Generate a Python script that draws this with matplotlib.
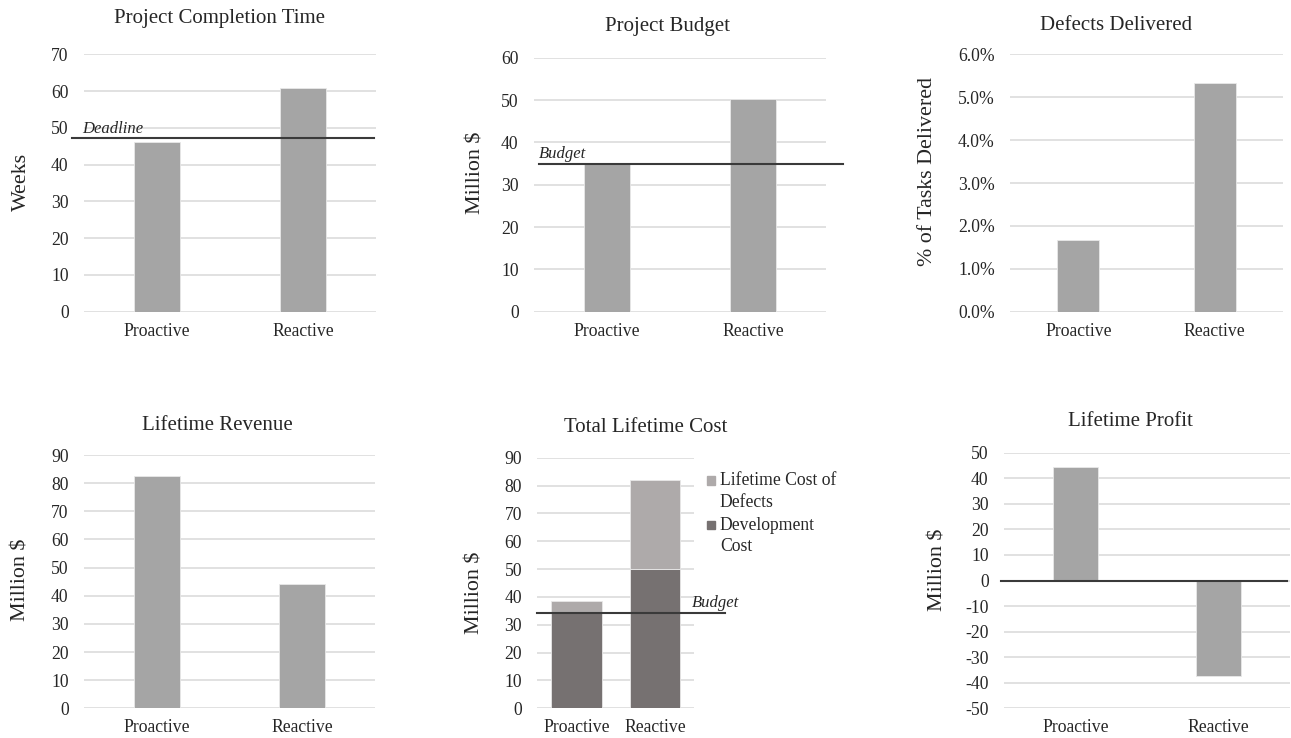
import matplotlib
matplotlib.use("Agg")
import matplotlib.pyplot as plt
import numpy as np
from matplotlib.patches import Patch, Rectangle
from matplotlib.legend_handler import HandlerPatch

plt.rcParams['font.family'] = ['Liberation Serif', 'DejaVu Serif']
plt.rcParams['axes.unicode_minus'] = False

# ---------------- data ----------------
categories = ["Proactive", "Reactive"]
completion_weeks = [46.2, 60.9]
deadline_weeks = 47.3
project_budget = [35.0, 50.3]
budget_level = 35.0
defects_pct = [1.68, 5.32]
lifetime_revenue = [82.5, 44.3]
development_cost = [34.6, 50.2]
defect_cost = [3.8, 31.8]
lifetime_budget_level = 34.1
lifetime_profit = [44.5, -37.4]

BAR = "#a5a5a5"
DARK = "#767171"
LIGHT = "#aeaaaa"
GRID = "#d9d9d9"
LINE = "#3a3a3a"
TXT = "#262626"
EDGE = "#e8e8e8"

W, H = 1291, 738
fig = plt.figure(figsize=(W / 100, H / 100), dpi=100)


def px_axes(left, right, top, bottom):
    return fig.add_axes([left / W, 1 - bottom / H, (right - left) / W, (bottom - top) / H])


def style(ax, ylim, step, fmt=None):
    ax.set_xlim(-0.5, 1.5)
    ax.set_ylim(*ylim)
    for s in ax.spines.values():
        s.set_visible(False)
    ticks = np.arange(ylim[0], ylim[1] + step / 2, step)
    ax.set_yticks(ticks)
    if fmt:
        ax.set_yticklabels([fmt(t) for t in ticks])
    else:
        ax.set_yticklabels([f"{int(round(t))}" for t in ticks])
    ax.yaxis.grid(True, color=GRID, lw=1.1)
    ax.set_axisbelow(True)
    ax.tick_params(axis="y", length=0, pad=11, labelsize=12.7, labelcolor=TXT)
    ax.tick_params(axis="x", length=0, pad=8, labelsize=12.7, labelcolor=TXT)
    ax.set_xticks(range(len(categories)))
    ax.set_xticklabels(categories)
    ax.patch.set_alpha(0)


def title(x, y, s):
    fig.text(x / W, 1 - y / H, s, ha="center", va="center", fontsize=15, color=TXT)


def ylabel(x, y, s):
    fig.text(x / W, 1 - y / H, s, ha="center", va="center", rotation=90, fontsize=15.8, color=TXT)


# ---- Panel 1: Project Completion Time ----
ax1 = px_axes(84, 376, 54.3, 311.7)
style(ax1, (0, 70), 10)
ax1.bar(range(2), completion_weeks, width=0.315, color=BAR, edgecolor=EDGE, lw=0.6)
ax1.plot([-0.582, 1.486], [deadline_weeks] * 2, color=LINE, lw=1.5, clip_on=False)
ax1.text(-0.514, deadline_weeks + 0.3, "Deadline", fontstyle="italic", fontsize=12,
         color=TXT, ha="left", va="bottom")
title(220, 19, "Project Completion Time")
ylabel(21, 182, "Weeks")

# ---- Panel 2: Project Budget ----
ax2 = px_axes(534, 826, 57.7, 311.7)
style(ax2, (0, 60), 10)
ax2.bar(range(2), project_budget, width=0.315, color=BAR, edgecolor=EDGE, lw=0.6)
ax2.plot([-0.466, 1.616], [budget_level] * 2, color=LINE, lw=1.5, clip_on=False)
ax2.text(-0.466, budget_level + 0.25, "Budget", fontstyle="italic", fontsize=12,
         color=TXT, ha="left", va="bottom")
title(667, 27, "Project Budget")
ylabel(476, 173, "Million $")

# ---- Panel 3: Defects Delivered ----
ax3 = px_axes(1010, 1283, 54.3, 311.7)
style(ax3, (0, 6), 1, fmt=lambda t: f"{t:.1f}%")
ax3.bar(range(2), defects_pct, width=0.31, color=BAR, edgecolor=EDGE, lw=0.6)
title(1116, 25, "Defects Delivered")
ylabel(928, 172, "% of Tasks Delivered")

# ---- Panel 4: Lifetime Revenue ----
ax4 = px_axes(84, 375, 455, 708.3)
style(ax4, (0, 90), 10)
ax4.bar(range(2), lifetime_revenue, width=0.315, color=BAR, edgecolor=EDGE, lw=0.6)
title(217, 425, "Lifetime Revenue")
ylabel(21, 580, "Million $")

# ---- Panel 5: Total Lifetime Cost ----
ax5 = px_axes(537.3, 694, 457.7, 708.3)
style(ax5, (0, 90), 10)
ax5.bar(range(2), development_cost, width=0.64, color=DARK, edgecolor=EDGE, lw=0.6)
ax5.bar(range(2), defect_cost, bottom=development_cost, width=0.64, color=LIGHT,
        edgecolor=EDGE, lw=0.6)
ax5.plot([-0.5, 1.897], [lifetime_budget_level] * 2, color=LINE, lw=1.5, clip_on=False)
ax5.text(1.476, lifetime_budget_level + 0.8, "Budget", fontstyle="italic", fontsize=12,
         color=TXT, ha="left", va="bottom", clip_on=False)


def top_square(legend, orig_handle, xdescent, ydescent, width, height, fontsize):
    s = 0.48 * fontsize
    return Rectangle((-xdescent + width - s, -ydescent + height - s + 0.04 * fontsize), s, s)


handles = [Patch(color=LIGHT, label="Lifetime Cost of\nDefects"),
           Patch(color=DARK, label="Development\nCost")]
leg = fig.legend(handles=handles, loc="upper left", bbox_to_anchor=(703 / W, 1 - 472 / H),
                 frameon=False, fontsize=12.7, handlelength=0.7, handleheight=2.3,
                 handletextpad=0.25, labelspacing=0.35, borderaxespad=0, borderpad=0,
                 labelcolor=TXT,
                 handler_map={Patch: HandlerPatch(patch_func=top_square)})
for t in leg.get_texts():
    t.set_linespacing(1.35)
title(646, 427, "Total Lifetime Cost")
ylabel(475, 593, "Million $")

# ---- Panel 6: Lifetime Profit ----
ax6 = px_axes(1004, 1290, 452.7, 708.3)
style(ax6, (-50, 50), 10)
ax6.bar(range(2), lifetime_profit, width=0.315, color=BAR, edgecolor=EDGE, lw=0.6)
ax6.plot([-0.523, 1.477], [0, 0], color=LINE, lw=1.5, clip_on=False)
title(1130, 422, "Lifetime Profit")
ylabel(938, 570, "Million $")

fig.savefig("out.png", dpi=100, facecolor="white")
